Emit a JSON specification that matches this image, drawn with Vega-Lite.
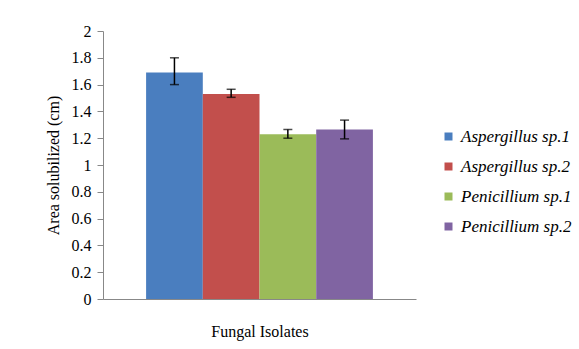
{
  "$schema": "https://vega.github.io/schema/vega-lite/v6.json",
  "autosize": "none",
  "width": 313,
  "height": 268,
  "padding": {"left": 103, "top": 31, "right": 163, "bottom": 50},
  "background": "white",
  "data": {"values": [
    {"group": "Fungal Isolates", "isolate": "Aspergillus sp.1", "area": 1.69, "low": 1.6, "high": 1.8},
    {"group": "Fungal Isolates", "isolate": "Aspergillus sp.2", "area": 1.53, "low": 1.505, "high": 1.565},
    {"group": "Fungal Isolates", "isolate": "Penicillium sp.1", "area": 1.23, "low": 1.2, "high": 1.265},
    {"group": "Fungal Isolates", "isolate": "Penicillium sp.2", "area": 1.265, "low": 1.195, "high": 1.335}
  ]},
  "encoding": {
    "x": {"field": "group", "type": "nominal",
      "scale": {"paddingOuter": 0.19, "paddingInner": 0},
      "axis": {"title": "Fungal Isolates", "labels": false, "ticks": false, "titlePadding": 24, "domain": true}},
    "xOffset": {"field": "isolate", "type": "nominal", "scale": {"paddingInner": 0, "paddingOuter": 0}}
  },
  "layer": [
    {
      "mark": {"type": "bar"},
      "encoding": {
        "y": {"field": "area", "type": "quantitative",
          "scale": {"domain": [0, 2]},
          "axis": {"title": "Area solubilized (cm)", "values": [0, 0.2, 0.4, 0.6, 0.8, 1, 1.2, 1.4, 1.6, 1.8, 2], "format": "~g", "labelOverlap": false, "labelFlush": false, "grid": false, "tickSize": 6, "labelPadding": 6, "titlePadding": 10, "domain": true}},
        "color": {"field": "isolate", "type": "nominal",
          "scale": {"domain": ["Aspergillus sp.1", "Aspergillus sp.2", "Penicillium sp.1", "Penicillium sp.2"], "range": ["#4a7ebf", "#c24f4c", "#9bbb59", "#8064a2"]},
          "legend": {"title": null, "orient": "none", "legendX": 337, "legendY": 97}}
      }
    },
    {
      "mark": {"type": "rule", "color": "black", "strokeWidth": 1.5},
      "encoding": {
        "y": {"field": "low", "type": "quantitative", "axis": {"title": "Area solubilized (cm)", "values": [0, 0.2, 0.4, 0.6, 0.8, 1, 1.2, 1.4, 1.6, 1.8, 2], "format": "~g", "labelOverlap": false, "labelFlush": false, "grid": false, "tickSize": 6, "labelPadding": 6, "titlePadding": 10, "domain": true}},
        "y2": {"field": "high"}
      }
    },
    {
      "mark": {"type": "tick", "color": "black", "thickness": 1.5, "size": 9, "orient": "horizontal"},
      "encoding": {"y": {"field": "low", "type": "quantitative", "axis": {"title": "Area solubilized (cm)", "values": [0, 0.2, 0.4, 0.6, 0.8, 1, 1.2, 1.4, 1.6, 1.8, 2], "format": "~g", "labelOverlap": false, "labelFlush": false, "grid": false, "tickSize": 6, "labelPadding": 6, "titlePadding": 10, "domain": true}}}
    },
    {
      "mark": {"type": "tick", "color": "black", "thickness": 1.5, "size": 9, "orient": "horizontal"},
      "encoding": {"y": {"field": "high", "type": "quantitative", "axis": {"title": "Area solubilized (cm)", "values": [0, 0.2, 0.4, 0.6, 0.8, 1, 1.2, 1.4, 1.6, 1.8, 2], "format": "~g", "labelOverlap": false, "labelFlush": false, "grid": false, "tickSize": 6, "labelPadding": 6, "titlePadding": 10, "domain": true}}}
    },
    {
      "mark": {"type": "rule", "color": "#888888", "strokeWidth": 1},
      "encoding": {"y": {"datum": 0, "type": "quantitative", "axis": {"title": "Area solubilized (cm)", "values": [0, 0.2, 0.4, 0.6, 0.8, 1, 1.2, 1.4, 1.6, 1.8, 2], "format": "~g", "labelOverlap": false, "labelFlush": false, "grid": false, "tickSize": 6, "labelPadding": 6, "titlePadding": 10, "domain": true}}, "xOffset": null}
    }
  ],
  "config": {
    "view": {"stroke": null},
    "font": "serif",
    "axis": {
      "domain": true,
      "domainColor": "#888888", "tickColor": "#888888", "domainWidth": 1,
      "labelFont": "serif", "labelFontSize": 16, "labelColor": "black",
      "titleFont": "serif", "titleFontSize": 16, "titleFontWeight": "normal", "titleColor": "black"
    },
    "legend": {
      "labelFont": "serif", "labelFontSize": 17, "labelFontStyle": "italic", "labelColor": "black",
      "symbolType": "square", "symbolSize": 64, "symbolStrokeWidth": 0, "rowPadding": 12, "labelOffset": 4, "labelLimit": 200
    }
  }
}
